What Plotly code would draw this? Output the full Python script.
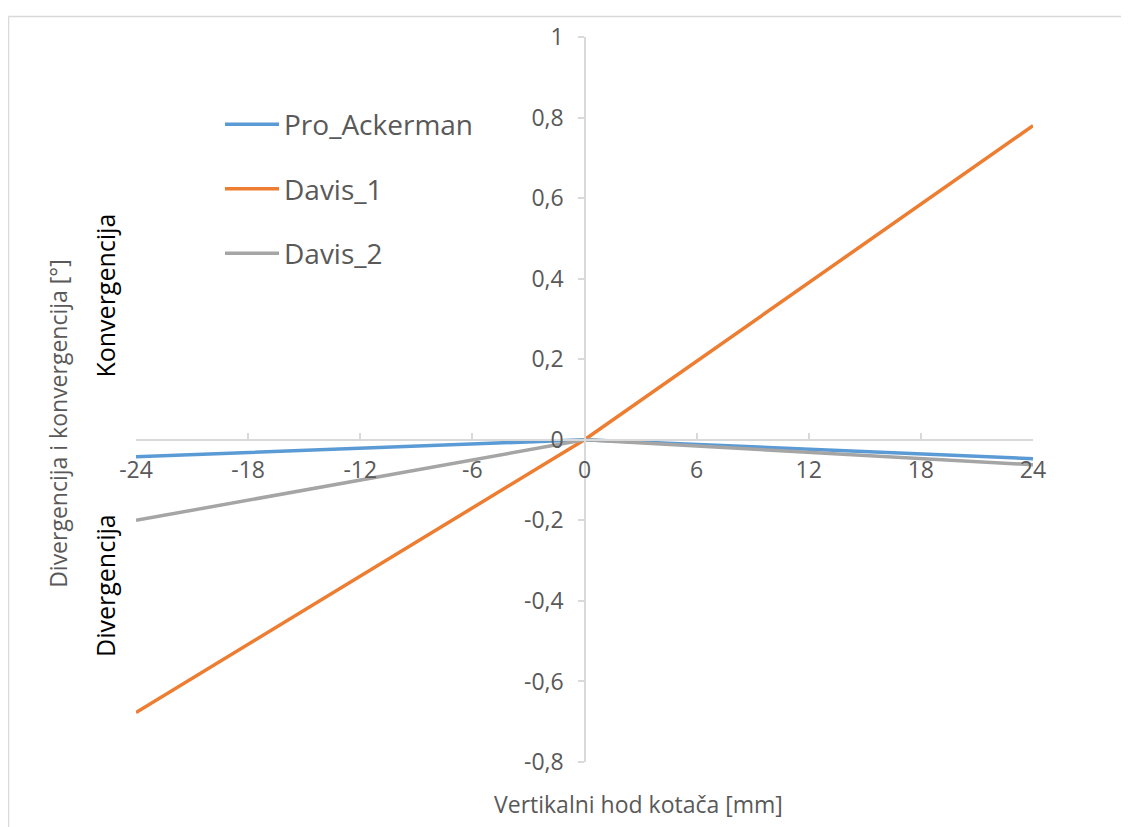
import plotly.graph_objects as go

# Data
x_mm = [-24, 0, 24]
pro_ackerman = [-0.042, 0.0, -0.047]
davis_1 = [-0.677, 0.0, 0.780]
davis_2 = [-0.200, 0.0, -0.062]

x_ticks = [-24, -18, -12, -6, 0, 6, 12, 18, 24]
y_ticks = [-0.8, -0.6, -0.4, -0.2, 0, 0.2, 0.4, 0.6, 0.8, 1]

series = [
    ("Pro_Ackerman", pro_ackerman, "#5b9bd5"),
    ("Davis_1", davis_1, "#ed7d31"),
    ("Davis_2", davis_2, "#a5a5a5"),
]

OFF = 8  # page body margin
W, H = 1129 - OFF, 827 - OFF
ML, MR, MT, MB = 136 - OFF, 96, 33 - OFF, 65
PW, PH = W - ML - MR, H - MT - MB

def px(xp):  # page pixel -> paper fraction
    return (xp - OFF - ML) / PW

def py(yp):
    return (H - MB - (yp - OFF)) / PH

fig = go.Figure()
for i, (name, vals, col) in enumerate(series):
    fig.add_trace(go.Scatter(
        x=x_mm, y=vals, mode="lines", name=name,
        line=dict(color=col, width=3.5),
        legendgroup=f"g{i}",
    ))

FONT = "Open Sans"
TXT = "#595959"
AX = "#d9d9d9"

fig.update_layout(
    width=W, height=H,
    margin=dict(l=ML, r=MR, t=MT, b=MB, pad=0),
    paper_bgcolor="white", plot_bgcolor="white",
    font=dict(family=FONT, color=TXT, size=23),
    showlegend=True,
    legend=dict(
        x=px(220), y=py(96), xanchor="left", yanchor="top",
        font=dict(family=FONT, size=28, color=TXT),
        bgcolor="rgba(0,0,0,0)",
        tracegroupgap=25,
        itemwidth=54,
    ),
    xaxis=dict(
        range=[-24, 24], tickvals=x_ticks, ticktext=[str(v) for v in x_ticks],
        showgrid=False, zeroline=False,
        showline=True, linecolor=AX, linewidth=1.5,
        ticks="inside", ticklen=6, tickcolor=AX, tickwidth=1.5,
        anchor="free", position=py(438), side="bottom",
        ticklabelstandoff=10,
        tickfont=dict(family=FONT, size=23, color=TXT),
    ),
    yaxis=dict(
        range=[-0.8, 1], tickvals=y_ticks,
        ticktext=[("%g" % v).replace(".", ",") for v in y_ticks],
        showgrid=False, zeroline=False,
        showline=True, linecolor=AX, linewidth=1.5,
        ticks="outside", ticklen=6, tickcolor=AX, tickwidth=1.5,
        anchor="free", position=px(585), side="left",
        ticklabelstandoff=10,
        tickfont=dict(family=FONT, size=23, color=TXT),
    ),
)

# Axis titles and region labels
fig.add_annotation(x=px(638), y=py(804), xref="paper", yref="paper",
                   text="Vertikalni hod kotača [mm]", showarrow=False,
                   font=dict(family=FONT, size=23, color=TXT),
                   xanchor="center", yanchor="middle")
fig.add_annotation(x=px(58), y=py(422), xref="paper", yref="paper",
                   text="Divergencija i konvergencija [°]", showarrow=False,
                   textangle=-90, font=dict(family=FONT, size=23, color=TXT),
                   xanchor="center", yanchor="middle")
fig.add_annotation(x=px(105), y=py(293), xref="paper", yref="paper",
                   text="Konvergencija", showarrow=False, textangle=-90,
                   font=dict(family=FONT, size=25, color="black"),
                   xanchor="center", yanchor="middle")
fig.add_annotation(x=px(105), y=py(585), xref="paper", yref="paper",
                   text="Divergencija", showarrow=False, textangle=-90,
                   font=dict(family=FONT, size=25, color="black"),
                   xanchor="center", yanchor="middle")

# Chart border (top and left visible)
fig.add_shape(type="line", xref="paper", yref="paper",
              x0=px(8.5), x1=px(1140), y0=py(12.5), y1=py(12.5),
              line=dict(color=AX, width=1.5))
fig.add_shape(type="line", xref="paper", yref="paper",
              x0=px(8.5), x1=px(8.5), y0=py(12.5), y1=py(840),
              line=dict(color=AX, width=1.5))

fig.write_html("out.html")
